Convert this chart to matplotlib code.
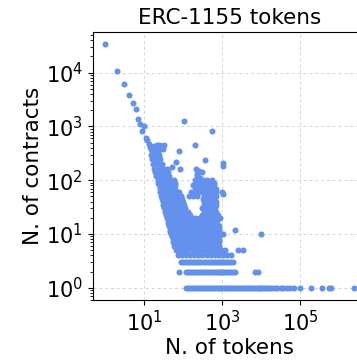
import matplotlib
matplotlib.use("Agg")
import matplotlib.pyplot as plt
from matplotlib.ticker import LogLocator, NullLocator, LogFormatterSciNotation

# --- data: (number of tokens, number of contracts) ---
# steep head of the distribution
head_tokens = [1, 2, 3, 4, 5, 6, 7, 8, 9, 10, 11, 12, 13, 14, 15, 16, 17, 18]
head_contracts = [33600, 10700, 6240, 3780, 2760, 2080, 1390, 1110, 830, 1000,
                  610, 560, 470, 420, 380, 350, 300, 270]

# small cluster and scattered points above the band
upper_tokens = [18, 21, 24, 27, 30, 33, 31, 20, 24, 18, 18, 22, 20, 27, 24, 32,
                67, 51, 84, 76, 27, 24, 32, 44, 29, 36]
upper_contracts = [440, 450, 445, 440, 440, 445, 380, 390, 360, 320, 260, 277,
                   208, 193, 157, 162, 218, 173, 162, 345, 136, 118, 110, 110,
                   88, 76]

# left diagonal band
band_tokens = [
    15, 19, 24,
    16, 20, 26,
    17, 22, 28,
    18, 23, 30, 39,
    19, 25, 32, 41,
    20, 26, 33, 42,
    22, 28, 36, 46, 58,
    23, 29, 37, 47, 60,
    24, 30, 38, 48, 61,
    25, 31, 40, 50, 63,
    26, 33, 42, 53, 67, 79,
    27, 35, 44, 56, 71, 88,
    29, 37, 47, 60, 76, 94,
    30, 38, 48, 61, 78, 99,
    31, 40, 51, 65, 83, 105,
    33, 42, 53, 68, 86, 110,
    35, 44, 56, 71, 91, 116, 134,
    37, 47, 60, 76, 97, 123, 145,
    38, 49, 62, 79, 100, 127, 152,
    40, 51, 65, 82, 105, 133, 160,
    41, 53, 67, 85, 108, 138, 170,
    43, 55, 70, 89, 113, 144, 183,
    46, 58, 74, 94, 120, 152, 195,
    47, 60, 76, 97, 124, 158, 205,
    49, 62, 79, 100, 127, 162, 210,
    51, 65, 83, 105, 133, 170, 230,
    53, 68, 86, 110, 140, 180, 240,
    56, 71, 90, 115, 146, 190,
    58, 74, 94, 120, 152, 200,
    66, 84, 107, 136, 175,
    72, 92, 117, 150,
]
band_contracts = [
    300, 300, 300,
    250, 250, 250,
    200, 200, 200,
    160, 160, 160, 160,
    140, 140, 140, 140,
    120, 120, 120, 120,
    100, 100, 100, 100, 100,
    90, 90, 90, 90, 90,
    80, 80, 80, 80, 80,
    70, 70, 70, 70, 70,
    60, 60, 60, 60, 60, 60,
    50, 50, 50, 50, 50, 50,
    45, 45, 45, 45, 45, 45,
    40, 40, 40, 40, 40, 40,
    35, 35, 35, 35, 35, 35,
    30, 30, 30, 30, 30, 30,
    26, 26, 26, 26, 26, 26, 26,
    23, 23, 23, 23, 23, 23, 23,
    20, 20, 20, 20, 20, 20, 20,
    18, 18, 18, 18, 18, 18, 18,
    16, 16, 16, 16, 16, 16, 16,
    14, 14, 14, 14, 14, 14, 14,
    12, 12, 12, 12, 12, 12, 12,
    11, 11, 11, 11, 11, 11, 11,
    10, 10, 10, 10, 10, 10, 10,
    9, 9, 9, 9, 9, 9, 9,
    8, 8, 8, 8, 8, 8, 8,
    7, 7, 7, 7, 7, 7,
    6, 6, 6, 6, 6, 6,
    5, 5, 5, 5, 5,
    4, 4, 4, 4,
]

# right-hand blob (with the empty pocket in the middle)
blob_tokens = [
    210, 260, 230, 300, 220, 270,
    200, 255, 325, 415, 530,
    230, 290, 370, 470, 600,
    180, 230, 290, 370, 470, 600,
    200, 255, 325, 415, 530, 680,
    160, 205, 260, 330, 420, 540, 690, 970,
    140, 180, 230, 330, 420, 540, 690,
    320, 410, 520, 660,
    330, 420, 540, 690,
    340, 430, 550, 700,
    310, 400, 510, 650,
    330, 420, 540, 690,
    300, 380, 490, 620, 790,
    195, 250, 320, 410, 520, 660, 850,
    210, 270, 340, 440, 560, 710,
    220, 280, 360, 460, 580, 740,
    240, 300, 390, 500, 630, 800,
    250, 320, 410, 520, 660, 840,
    270, 340, 430, 550, 700,
    280, 350, 450, 570, 720, 920,
    300, 380, 480, 610, 780,
    310, 390, 500, 640, 820,
    240, 310, 390, 500, 640, 820,
    250, 320, 410, 520, 660, 840,
    220, 280, 360, 460, 580, 740, 940, 1200,
    190, 240, 310, 400, 510, 650, 830, 1060, 1350, 1700,
]
blob_contracts = [
    160, 150, 130, 140, 120, 110,
    100, 100, 100, 100, 100,
    90, 90, 90, 90, 90,
    80, 80, 80, 80, 80, 80,
    70, 70, 70, 70, 70, 70,
    60, 60, 60, 60, 60, 60, 60, 60,
    50, 50, 50, 50, 50, 50, 50,
    45, 45, 45, 45,
    40, 40, 40, 40,
    35, 35, 35, 35,
    30, 30, 30, 30,
    26, 26, 26, 26,
    23, 23, 23, 23, 23,
    20, 20, 20, 20, 20, 20, 20,
    18, 18, 18, 18, 18, 18,
    16, 16, 16, 16, 16, 16,
    14, 14, 14, 14, 14, 14,
    12, 12, 12, 12, 12, 12,
    11, 11, 11, 11, 11,
    10, 10, 10, 10, 10, 10,
    9, 9, 9, 9, 9,
    8, 8, 8, 8, 8,
    7, 7, 7, 7, 7, 7,
    6, 6, 6, 6, 6, 6,
    5, 5, 5, 5, 5, 5, 5, 5,
    4, 4, 4, 4, 4, 4, 4, 4, 4, 4,
]

# bottom rows (3, 2 and 1 contracts)
row3_tokens = [87, 98, 110, 124, 140, 158, 180, 200, 230, 260, 290, 330, 370,
               420, 470, 530, 600, 680, 760, 860, 970, 1100, 1230, 1380, 1560,
               1850]
row2_tokens = [79, 120, 135, 150, 170, 190, 215, 240, 270, 300, 340, 380, 430,
               480, 540, 600, 680, 760, 850, 950, 1070, 1200, 1350, 1500, 1700,
               1900, 2070, 6800, 8100]
row1_tokens = [120, 135, 150, 170, 190, 215, 240, 270, 300, 340, 380, 430, 480,
               540, 600, 680, 760, 850, 950, 1070, 1200, 1350, 1500, 1700, 1900,
               2150, 2400, 2700, 3000, 3400, 3800, 4300, 4800, 5400, 6000, 6800,
               7600, 8500, 9500, 10700, 12000, 13500, 15000, 17000, 19000, 22000,
               25000, 31000, 36000, 45000, 55000, 70000, 98000, 190000, 365000,
               550000, 620000, 2300000]

# isolated outliers
outlier_tokens = [102, 540, 205, 350, 1030, 1030, 1030, 10000, 2080, 2500, 3400, 1030]
outlier_contracts = [1280, 810, 445, 235, 210, 180, 10, 10, 12, 5, 5, 55]

tokens = (head_tokens + upper_tokens + band_tokens + blob_tokens + row3_tokens
          + row2_tokens + row1_tokens + outlier_tokens)
contracts = (head_contracts + upper_contracts + band_contracts + blob_contracts
             + [3] * len(row3_tokens) + [2] * len(row2_tokens)
             + [1] * len(row1_tokens) + outlier_contracts)

fig = plt.figure(figsize=(3.57, 3.61), dpi=100)
# axes run past the right edge of the picture, as in the original crop
ax = fig.add_axes([0.26, 0.169, 0.765, 0.742])

ax.scatter(tokens, contracts, s=19, color='#6491ee', linewidths=0, zorder=3)
ax.set_xscale('log')
ax.set_yscale('log')

ax.set_xticks([10, 1e3, 1e5])
ax.xaxis.set_major_formatter(LogFormatterSciNotation())
ax.xaxis.set_minor_locator(NullLocator())
ax.yaxis.set_major_locator(LogLocator(base=10, numticks=10))
ax.yaxis.set_minor_locator(LogLocator(base=10, subs=range(2, 10), numticks=20))

ax.grid(True, which='major', linestyle=(0, (3, 3)), color='#d4d4d4',
        linewidth=0.7, zorder=0)
ax.tick_params(axis='both', which='major', labelsize=15)

ax.set_title('ERC-1155 tokens', fontsize=15.5)
ax.set_xlabel('N. of tokens', fontsize=15.5, labelpad=2)
ax.set_ylabel('N. of contracts', fontsize=15.5, labelpad=2)

plt.savefig('out.png', dpi=100)
